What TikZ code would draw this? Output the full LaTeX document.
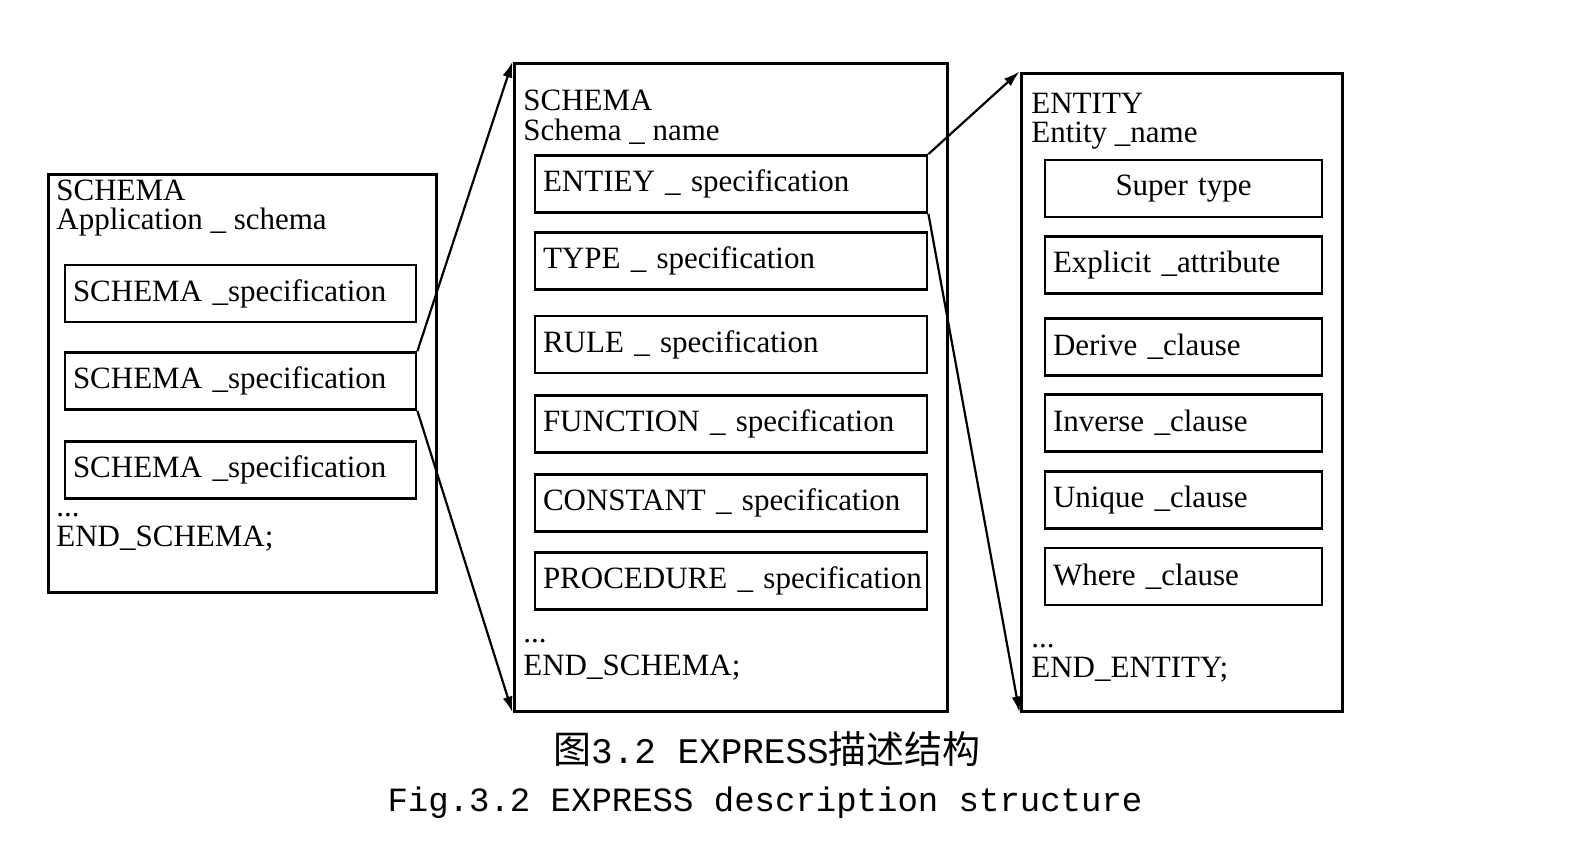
\documentclass[tikz,border=0pt]{standalone}
\usepackage{fontspec}
\setmainfont{Liberation Serif}
\setmonofont{Liberation Mono}
\newfontfamily\cjk{Noto Sans CJK SC}
\usetikzlibrary{arrows.meta}
\begin{document}
\begin{tikzpicture}[x=0.5pt,y=-0.5pt,
  outerbox/.style={draw, line width=1.5pt, inner sep=0pt},
  ibox/.style={draw, line width=1.4pt, minimum height=28.5pt, text width=#1, align=left, inner xsep=4pt, inner ysep=0pt, font=\fontsize{15.5}{17}\selectfont},
  cbox/.style={draw, line width=1.4pt, minimum height=28.5pt, text width=#1, align=center, inner xsep=4pt, inner ysep=0pt, font=\fontsize{15.5}{17}\selectfont},
  hdr/.style={anchor=west, inner sep=0pt, font=\fontsize{15.5}{17}\selectfont},
  conn/.style={line width=1.1pt, -{Latex[length=8pt,width=5pt]}}
]
\useasboundingbox[fill=white] (0,0) rectangle (1588,852);

% left box
\node[outerbox, minimum width=194pt, minimum height=209pt] (L) at (242,383) {};
\node[hdr] (Lh1) at (56,190) {SCHEMA};
\node[hdr] (Lh2) at (56,222) {Application \_ schema};
\node[ibox=167.5pt] (l1) at (240.5,293.5) {SCHEMA \_specification};
\node[ibox=167.5pt] (l2) at (240.5,381) {SCHEMA \_specification};
\node[ibox=167.5pt] (l3) at (240.5,470) {SCHEMA \_specification};
\node[hdr] (Ld) at (56,515) {...};
\node[hdr] (Le) at (56,539) {END\_SCHEMA;};

% middle box
\node[outerbox, minimum width=216.5pt, minimum height=324pt] (M) at (730.5,387) {};
\node[hdr] (Mh1) at (523,100) {SCHEMA};
\node[hdr] (Mh2) at (523,132) {Schema \_ name};
\node[ibox=188pt] (m1) at (731,184) {ENTIEY \_ specification};
\node[ibox=188pt] (m2) at (731,261) {TYPE \_ specification};
\node[ibox=188pt] (m3) at (731,344.5) {RULE \_ specification};
\node[ibox=188pt] (m4) at (731,424) {FUNCTION \_ specification};
\node[ibox=188pt] (m5) at (731,503) {CONSTANT \_ specification};
\node[ibox=188pt] (m6) at (731,581) {\mbox{PROCEDURE \_ specification}};
\node[hdr] (Md) at (523,641) {...};
\node[hdr] (Me) at (523,668) {END\_SCHEMA;};

% right box
\node[outerbox, minimum width=160.5pt, minimum height=319pt] (R) at (1181.5,392) {};
\node[hdr] (Rh1) at (1031,103) {ENTITY};
\node[hdr] (Rh2) at (1031,136) {Entity \_name};
\node[cbox=130.5pt] (r1) at (1183.5,188.5) {Super type};
\node[ibox=130.5pt] (r2) at (1183.5,265) {Explicit \_attribute};
\node[ibox=130.5pt] (r3) at (1183.5,347) {Derive \_clause};
\node[ibox=130.5pt] (r4) at (1183.5,423) {Inverse \_clause};
\node[ibox=130.5pt] (r5) at (1183.5,500) {Unique \_clause};
\node[ibox=130.5pt] (r6) at (1183.5,576.5) {Where \_clause};
\node[hdr] (Rd) at (1031,646) {...};
\node[hdr] (Re) at (1031,670) {END\_ENTITY;};

% connectors
\draw[conn] (l2.north east) -- (M.north west);
\draw[conn] (l2.south east) -- (M.south west);
\draw[conn] (m1.north east) -- (R.north west);
\draw[conn] (m1.south east) -- (R.south west);

% caption
\node[inner sep=0pt] (cap1) at (767,749) {{\cjk\fontsize{19}{22}\selectfont 图}{\ttfamily\fontsize{18}{22}\selectfont 3.2 EXPRESS}{\cjk\fontsize{19}{22}\selectfont 描述结构}};
\node[inner sep=0pt, font=\ttfamily\fontsize{17}{20}\selectfont] (cap2) at (765,803) {Fig.3.2 EXPRESS description structure};
\end{tikzpicture}
\end{document}
